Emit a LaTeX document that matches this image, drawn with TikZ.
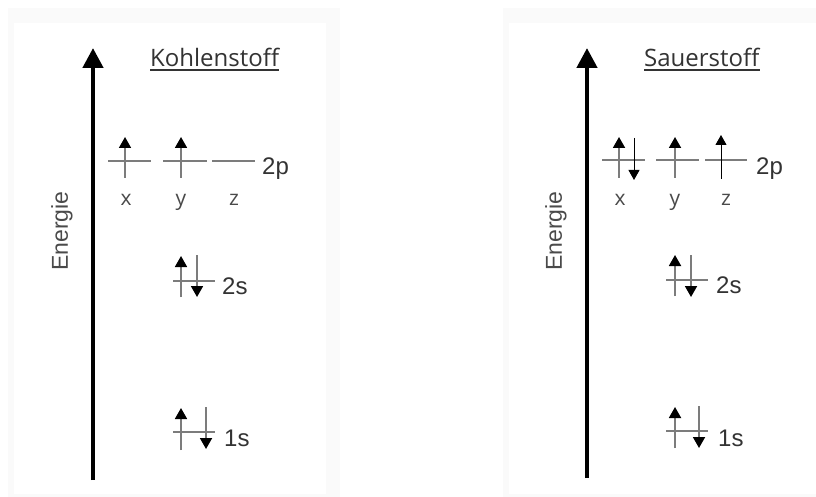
\documentclass[tikz,border=0pt]{standalone}
\usepackage{fontspec}
\setmainfont{Liberation Sans}
\newfontfamily\titlefont{Open Sans}
\usetikzlibrary{arrows.meta}
\definecolor{lvl}{HTML}{7C7C7C}
\definecolor{txt}{HTML}{333333}
\definecolor{lbl}{HTML}{4A4A4A}
\definecolor{panelgray}{HTML}{FAFAFA}
\begin{document}
\begin{tikzpicture}[x=1pt,y=-1pt,
  panel/.style={fill=panelgray,draw=none},
  inner/.style={fill=white,draw=none},
  level/.style={draw=lvl,line width=1.6pt},
  spin/.style={draw=lvl,line width=1.8pt,-{Triangle[width=12pt,length=11pt,color=black,fill=black]}},
  thinspin/.style={draw=black,line width=1pt,-{Triangle[width=11pt,length=10pt,color=black,fill=black]}},
  energy/.style={draw=black,line width=4.5pt,-{Triangle[width=20pt,length=20pt]}},
  title/.style={anchor=base west,inner sep=0pt,text=txt,font=\titlefont\fontsize{24}{28}\selectfont},
  uline/.style={draw=txt,line width=1.3pt},
  orblabel/.style={anchor=base west,inner sep=0pt,text=txt,font=\fontsize{24}{28}\selectfont},
  axlabel/.style={anchor=base,inner sep=0pt,text=lbl,font=\titlefont\fontsize{21}{24}\selectfont},
  energylabel/.style={rotate=90,inner sep=0pt,text=lbl,font=\fontsize{23}{27}\selectfont}]
\useasboundingbox (0,0) rectangle (816,497);
% faint panels
\fill[panel] (8,8) rectangle (340,497);
\fill[inner] (14,23) rectangle (326,494);
\fill[panel] (503,8) rectangle (816,497);
\fill[inner] (509,23) rectangle (816,494);

% ================= Kohlenstoff =================
\coordinate (eCb) at (93,480);
\coordinate (eCt) at (93,48);
\draw[energy] (eCb) -- (eCt);
\node[energylabel] (enC) at (62,231) {Energie};
\node[title] (tC) at (150,67) {Kohlenstoff};
\path (tC.base west) ++(0,3) coordinate (uCa) (tC.base east) ++(0,3) coordinate (uCb);
\draw[uline] (uCa) -- (uCb);
% 2p
\coordinate (pC1a) at (108,161); \coordinate (pC1b) at (151,161);
\coordinate (pC2a) at (163,161); \coordinate (pC2b) at (207,161);
\coordinate (pC3a) at (212,161); \coordinate (pC3b) at (255,161);
\draw[level] (pC1a) -- (pC1b);
\draw[level] (pC2a) -- (pC2b);
\draw[level] (pC3a) -- (pC3b);
\node[orblabel] (lC2p) at (262,175) {2p};
\coordinate (sCxa) at (125,178); \coordinate (sCxb) at (125,137);
\coordinate (sCya) at (181,178); \coordinate (sCyb) at (181,137);
\draw[spin] (sCxa) -- (sCxb);
\draw[spin] (sCya) -- (sCyb);
\node[axlabel] (xC) at (126,206) {x};
\node[axlabel] (yC) at (181,206) {y};
\node[axlabel] (zC) at (234,206) {z};
% 2s
\coordinate (sC2a) at (173,281); \coordinate (sC2b) at (215,281);
\draw[level] (sC2a) -- (sC2b);
\coordinate (uC2a) at (181,297); \coordinate (uC2b) at (181,256);
\coordinate (dC2a) at (197,255); \coordinate (dC2b) at (197,297);
\draw[spin] (uC2a) -- (uC2b);
\draw[spin] (dC2a) -- (dC2b);
\node[orblabel] (lC2s) at (222,294) {2s};
% 1s
\coordinate (sC1a) at (173,432); \coordinate (sC1b) at (215,432);
\draw[level] (sC1a) -- (sC1b);
\coordinate (uC1a) at (181,450); \coordinate (uC1b) at (181,408);
\coordinate (dC1a) at (206,407); \coordinate (dC1b) at (206,449);
\draw[spin] (uC1a) -- (uC1b);
\draw[spin] (dC1a) -- (dC1b);
\node[orblabel] (lC1s) at (224,446) {1s};

% ================= Sauerstoff =================
\coordinate (eOb) at (587,478);
\coordinate (eOt) at (587,48);
\draw[energy] (eOb) -- (eOt);
\node[energylabel] (enO) at (556,231) {Energie};
\node[title] (tO) at (644,67) {Sauerstoff};
\path (tO.base west) ++(0,3) coordinate (uOa) (tO.base east) ++(0,3) coordinate (uOb);
\draw[uline] (uOa) -- (uOb);
% 2p
\coordinate (pO1a) at (602,160); \coordinate (pO1b) at (645,160);
\coordinate (pO2a) at (656,160); \coordinate (pO2b) at (699,160);
\coordinate (pO3a) at (705,160); \coordinate (pO3b) at (747,160);
\draw[level] (pO1a) -- (pO1b);
\draw[level] (pO2a) -- (pO2b);
\draw[level] (pO3a) -- (pO3b);
\node[orblabel] (lO2p) at (756,175) {2p};
\coordinate (sOxa) at (619,178); \coordinate (sOxb) at (619,137);
\coordinate (sOxda) at (634,138); \coordinate (sOxdb) at (634,180);
\coordinate (sOya) at (675,178); \coordinate (sOyb) at (675,137);
\coordinate (sOza) at (721,179); \coordinate (sOzb) at (721,135);
\draw[spin] (sOxa) -- (sOxb);
\draw[thinspin] (sOxda) -- (sOxdb);
\draw[spin] (sOya) -- (sOyb);
\draw[thinspin] (sOza) -- (sOzb);
\node[axlabel] (xO) at (620,206) {x};
\node[axlabel] (yO) at (675,206) {y};
\node[axlabel] (zO) at (726,206) {z};
% 2s
\coordinate (sO2a) at (666,280); \coordinate (sO2b) at (708,280);
\draw[level] (sO2a) -- (sO2b);
\coordinate (uO2a) at (675,296); \coordinate (uO2b) at (675,255);
\coordinate (dO2a) at (691,255); \coordinate (dO2b) at (691,297);
\draw[spin] (uO2a) -- (uO2b);
\draw[spin] (dO2a) -- (dO2b);
\node[orblabel] (lO2s) at (716,293) {2s};
% 1s
\coordinate (sO1a) at (666,431); \coordinate (sO1b) at (708,431);
\draw[level] (sO1a) -- (sO1b);
\coordinate (uO1a) at (675,448); \coordinate (uO1b) at (675,407);
\coordinate (dO1a) at (699,406); \coordinate (dO1b) at (699,448);
\draw[spin] (uO1a) -- (uO1b);
\draw[spin] (dO1a) -- (dO1b);
\node[orblabel] (lO1s) at (718,446) {1s};
\end{tikzpicture}
\end{document}
